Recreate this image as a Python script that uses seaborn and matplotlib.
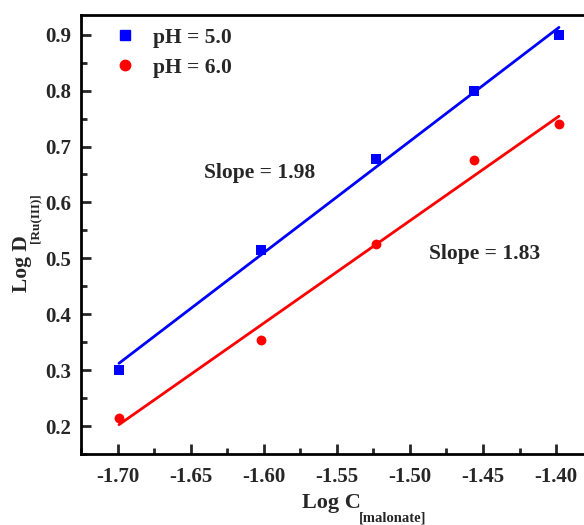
# ==========================================
# LOG D vs LOG C (MALONATE) - SLOPE ANALYSIS
# ==========================================

import numpy as np
import pandas as pd
import matplotlib
matplotlib.use("Agg")
import matplotlib.pyplot as plt
from matplotlib.ticker import MultipleLocator, AutoMinorLocator, FuncFormatter
import seaborn as sns

# ==========================================
# DATA
# ==========================================

log_c = [-1.699, -1.602, -1.523, -1.456, -1.398]
log_d_ph5 = [0.300, 0.515, 0.677, 0.800, 0.900]
log_d_ph6 = [0.215, 0.354, 0.525, 0.676, 0.740]
series_labels = ["pH = 5.0", "pH = 6.0"]
slope_labels = ["Slope = 1.98", "Slope = 1.83"]

df = pd.DataFrame({
    "logC": log_c * 2,
    "logD": log_d_ph5 + log_d_ph6,
    "pH": [series_labels[0]] * 5 + [series_labels[1]] * 5,
})

# ==========================================
# STYLE
# ==========================================

sns.set_style("ticks")
plt.rcParams["font.family"] = ["Liberation Serif", "DejaVu Serif"]
plt.rcParams["font.weight"] = "bold"

fig = plt.figure(figsize=(5.84, 5.25), dpi=100)
ax = fig.add_axes([0.1387, 0.1352, 0.876, 0.836])

colors = {series_labels[0]: "#0000ff", series_labels[1]: "#ff0000"}
markers = {series_labels[0]: "s", series_labels[1]: "o"}

for lab in series_labels:
    sub = df[df["pH"] == lab]
    sns.regplot(
        data=sub, x="logC", y="logD", ax=ax, ci=None,
        color=colors[lab], marker=markers[lab],
        scatter_kws={"s": 50, "linewidths": 0, "alpha": 1, "zorder": 3},
        line_kws={"lw": 2.0, "zorder": 2},
    )

# ==========================================
# AXES
# ==========================================

ax.set_xlim(-1.725, -1.375)
ax.set_ylim(0.15, 0.935)
ax.xaxis.set_major_locator(MultipleLocator(0.05))
ax.yaxis.set_major_locator(MultipleLocator(0.1))
ax.xaxis.set_minor_locator(AutoMinorLocator(2))
ax.yaxis.set_minor_locator(AutoMinorLocator(2))
ax.xaxis.set_major_formatter(FuncFormatter(lambda v, p: f"{v:.2f}"))
ax.yaxis.set_major_formatter(FuncFormatter(lambda v, p: f"{v:.1f}"))

for s in ax.spines.values():
    s.set_linewidth(2.0)
    s.set_color("black")

ax.tick_params(which="major", direction="in", length=7, width=2, labelsize=15)
ax.tick_params(axis="y", which="major", pad=7)
ax.tick_params(axis="x", which="major", pad=9)
ax.tick_params(which="minor", direction="in", length=4, width=2)
for t in ax.get_xticklabels() + ax.get_yticklabels():
    t.set_fontweight("bold")

ax.set_xlabel("")
ax.set_ylabel("")

# axis titles with low, small subscripts
fig.text(302 / 584, 1 - 508 / 525, "Log C", fontsize=16, fontweight="bold",
         ha="left", va="baseline")
fig.text(359 / 584, 1 - 522 / 525, "[malonate]", fontsize=10.5, fontweight="bold",
         ha="left", va="baseline")
fig.text(27 / 584, 1 - 292 / 525, "Log D", fontsize=15.5, fontweight="bold",
         rotation=90, rotation_mode="anchor", ha="left", va="baseline")
fig.text(38 / 584, 1 - 243 / 525, "[Ru(III)]", fontsize=9.5, fontweight="bold",
         rotation=90, rotation_mode="anchor", ha="left", va="baseline")

# ==========================================
# ANNOTATIONS
# ==========================================

ax.text(-1.6027, 0.653, slope_labels[0], fontsize=15.5, fontweight="bold", ha="center", va="center")
ax.text(-1.4490, 0.507, slope_labels[1], fontsize=15.5, fontweight="bold", ha="center", va="center")

handles = [plt.Line2D([], [], ls="", marker=markers[l], color=colors[l], markersize=7.5)
           for l in series_labels]
ax.legend(
    handles, series_labels,
    loc="upper left", bbox_to_anchor=(0.049, 0.991), borderaxespad=0, frameon=False,
    prop={"family": "Liberation Serif", "weight": "bold", "size": 15.5},
    handlelength=1.0, handletextpad=0.8, labelspacing=0.45,
)

plt.savefig("out.png", dpi=100)
